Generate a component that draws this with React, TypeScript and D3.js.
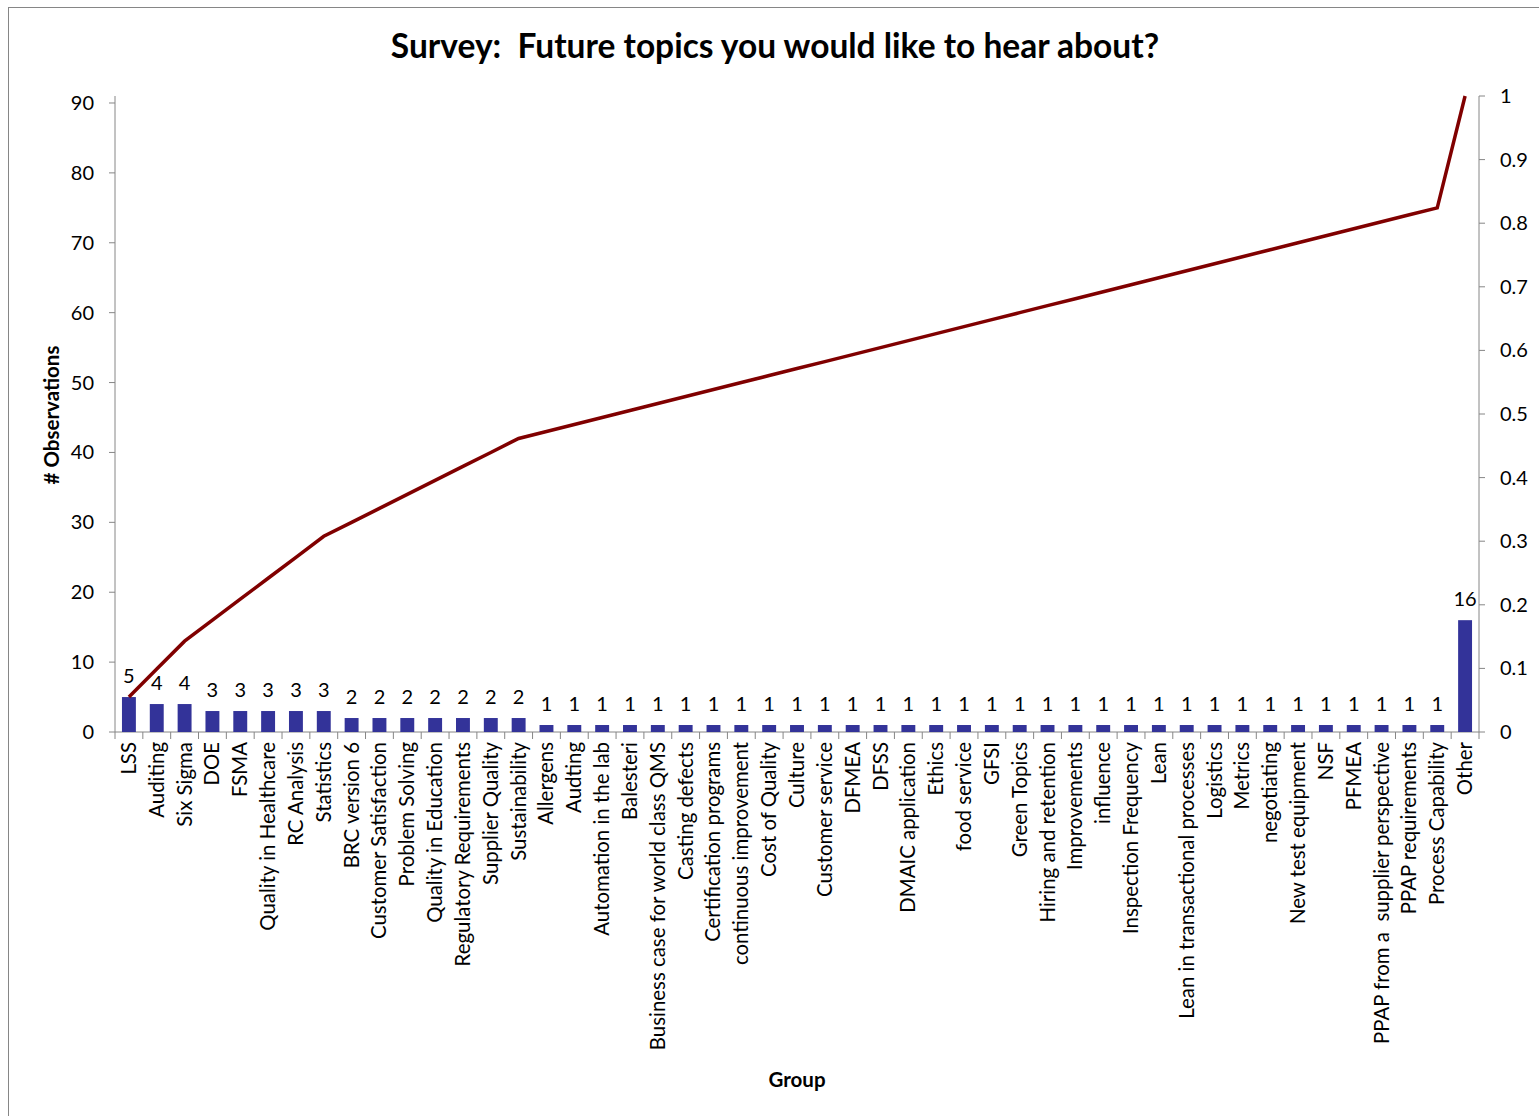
import React from 'react';
import * as d3 from 'd3';

const categories = [
  'LSS', 'Auditing', 'Six Sigma', 'DOE', 'FSMA', 'Quality in Healthcare', 'RC Analysis', 'Statistics',
  'BRC version 6', 'Customer Satisfaction', 'Problem Solving', 'Quality in Education',
  'Regulatory Requirements', 'Supplier Quality', 'Sustainability', 'Allergens', 'Audting',
  'Automation in the lab', 'Balesteri', 'Business case for world class QMS', 'Casting defects',
  'Certification programs', 'continuous improvement', 'Cost of Quality', 'Culture',
  'Customer service', 'DFMEA', 'DFSS', 'DMAIC application', 'Ethics', 'food service', 'GFSI',
  'Green Topics', 'Hiring and retention', 'Improvements', 'influence', 'Inspection Frequency',
  'Lean', 'Lean in transactional processes', 'Logistics', 'Metrics', 'negotiating',
  'New test equipment', 'NSF', 'PFMEA', 'PPAP from a  supplier perspective', 'PPAP requirements',
  'Process Capability', 'Other'
];

const counts = [
  5, 4, 4, 3, 3, 3, 3, 3,
  2, 2, 2, 2, 2, 2, 2,
  1, 1, 1, 1, 1, 1, 1, 1, 1, 1, 1, 1, 1, 1, 1, 1, 1,
  1, 1, 1, 1, 1, 1, 1, 1, 1, 1, 1, 1, 1, 1, 1, 1,
  16
];

const leftTicks = [0, 10, 20, 30, 40, 50, 60, 70, 80, 90];
const rightTicks = [0, 0.1, 0.2, 0.3, 0.4, 0.5, 0.6, 0.7, 0.8, 0.9, 1];

const WIDTH = 1539;
const HEIGHT = 1116;
const margin = { top: 96, left: 115, right: 1479, bottom: 732 };
const FONT = 'Lato, "Open Sans", sans-serif';
const AXIS_GREY = '#868686';

export default function App() {
  const total = d3.sum(counts);
  const cumulative = Array.from(d3.cumsum(counts));

  const xScale = d3
    .scaleBand<string>()
    .domain(categories)
    .range([margin.left, margin.right])
    .paddingInner(0.5)
    .paddingOuter(0.25);

  // 左轴最大值取总数，这样累计线和右侧百分比轴对齐
  const yScale = d3.scaleLinear().domain([0, total]).range([margin.bottom, margin.top]);
  const pScale = d3.scaleLinear().domain([0, 1]).range([margin.bottom, margin.top]);

  const step = xScale.step();
  const center = (c: string) => (xScale(c) || 0) + xScale.bandwidth() / 2;

  const line = d3
    .line<number>()
    .x((_, i) => center(categories[i]))
    .y(d => pScale(d / total));

  return (
    <svg width={WIDTH} height={HEIGHT} style={{ position: 'absolute', left: 0, top: 0 }}>
      <rect x={0} y={0} width={WIDTH} height={HEIGHT} fill="#fff" />
      <rect x={8.5} y={7.5} width={WIDTH + 10} height={HEIGHT + 10} fill="none" stroke={AXIS_GREY} strokeWidth={1} />

      {/* 标题 */}
      <text x={775} y={58} textAnchor="middle" fontFamily={FONT} fontWeight="bold" fontSize={33.5} fill="#000">
        Survey:{'\u00a0\u00a0'}Future topics you would like to hear about?
      </text>

      {/* 左轴 */}
      <g>
        <line x1={margin.left} x2={margin.left} y1={margin.top} y2={margin.bottom} stroke={AXIS_GREY} />
        {leftTicks.map(t => (
          <g key={t} transform={`translate(0, ${yScale(t)})`}>
            <line x1={margin.left - 6} x2={margin.left} stroke={AXIS_GREY} />
            <text x={94} y={7} textAnchor="end" fontFamily={FONT} fontSize={20} fill="#000">
              {t}
            </text>
          </g>
        ))}
        <text
          transform={`translate(59, 415) rotate(-90)`}
          textAnchor="middle"
          fontFamily={FONT}
          fontWeight="bold"
          fontSize={20.5}
          fill="#000"
        >
          # Observations
        </text>
      </g>

      {/* 右轴 */}
      <g>
        <line x1={margin.right} x2={margin.right} y1={margin.top} y2={margin.bottom} stroke={AXIS_GREY} />
        {rightTicks.map(t => (
          <g key={t} transform={`translate(0, ${pScale(t)})`}>
            <line x1={margin.right} x2={margin.right + 6} stroke={AXIS_GREY} />
            <text x={1500} y={7} textAnchor="start" fontFamily={FONT} fontSize={20} fill="#000">
              {d3.format('~g')(+t.toFixed(1))}
            </text>
          </g>
        ))}
      </g>

      {/* x轴 */}
      <g>
        <line x1={margin.left} x2={margin.right} y1={margin.bottom} y2={margin.bottom} stroke={AXIS_GREY} />
        {d3.range(categories.length + 1).map(i => (
          <line
            key={i}
            x1={margin.left + i * step}
            x2={margin.left + i * step}
            y1={margin.bottom}
            y2={margin.bottom + 7}
            stroke={AXIS_GREY}
          />
        ))}
        {categories.map(c => (
          <text
            key={c}
            transform={`translate(${center(c) + 7}, ${margin.bottom + 10}) rotate(-90)`}
            textAnchor="end"
            fontFamily={FONT}
            fontSize={20.4}
            fill="#000"
            style={{ whiteSpace: 'pre' }}
          >
            {c}
          </text>
        ))}
        <text x={797} y={1087} textAnchor="middle" fontFamily={FONT} fontWeight="bold" fontSize={20.5} fill="#000">
          Group
        </text>
      </g>

      {/* 柱子 */}
      <g>
        {categories.map((c, i) => (
          <g key={c}>
            <rect
              x={xScale(c)}
              y={yScale(counts[i])}
              width={xScale.bandwidth()}
              height={margin.bottom - yScale(counts[i])}
              fill="#333399"
            />
            <text
              x={center(c)}
              y={yScale(counts[i]) - 14}
              textAnchor="middle"
              fontFamily={FONT}
              fontSize={20}
              fill="#000"
            >
              {counts[i]}
            </text>
          </g>
        ))}
      </g>

      {/* 累计折线 */}
      <path d={line(cumulative) || ''} fill="none" stroke="#800000" strokeWidth={3.5} />
    </svg>
  );
}
